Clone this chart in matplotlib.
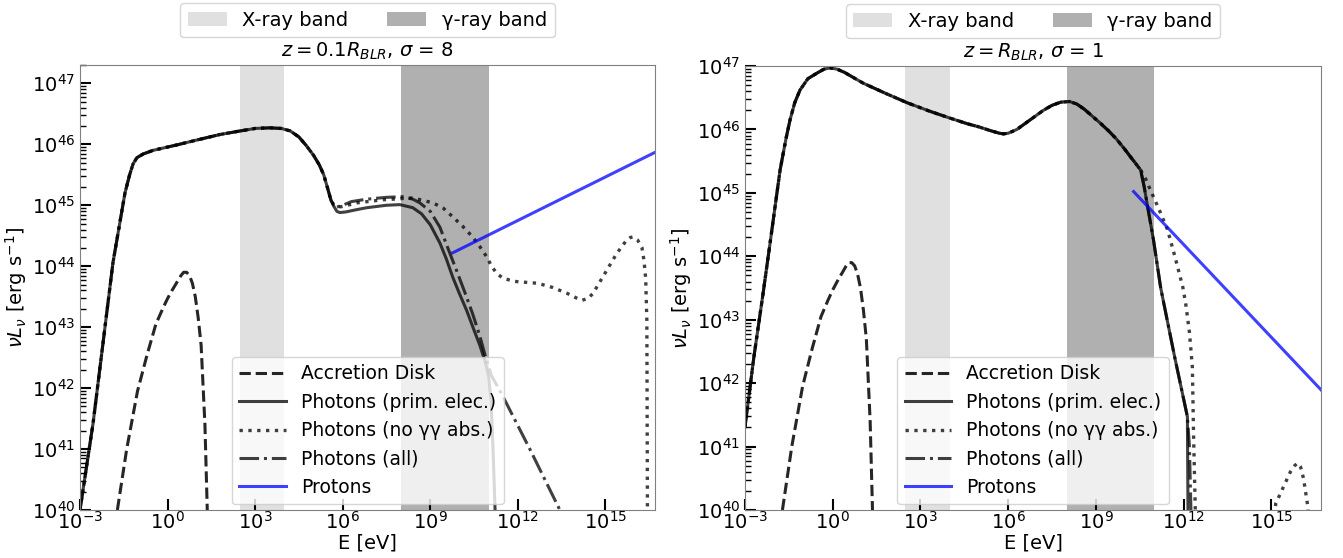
import numpy as np
import matplotlib
matplotlib.use("Agg")
from matplotlib import pyplot as plt
from matplotlib.ticker import LogLocator, NullLocator

# energy bands [eV]
xray_band = (3e2, 1e4)
gamma_band = (1e8, 1e11)

# accretion disk (same in both panels), log10 values
disk_logE = [-1.72, -1.4, -1.03, -0.7, -0.4, -0.15, 0.0, 0.15, 0.3, 0.45, 0.55, 0.65, 0.75, 0.85, 0.95, 1.05, 1.15, 1.28, 1.36]
disk_logL = [40.0, 41.0, 41.95, 42.55, 43.05, 43.32, 43.47, 43.6, 43.72, 43.84, 43.9, 43.9, 43.85, 43.72, 43.5, 43.15, 42.7, 41.4, 40.0]

# left panel: z = 0.1 R_BLR, sigma = 8
l_common_logE = [-3, -2.55, -1.87, -1.46, -1.3, -1.18, -1.05, -0.84, -0.5, 0.32, 1.0, 1.79, 2.5, 3.0, 3.5,
                 3.9, 4.2, 4.5, 4.75, 5.0, 5.2, 5.35, 5.5, 5.6]
l_common_logL = [40, 41.43, 44.06, 45.2, 45.5, 45.68, 45.78, 45.84, 45.9, 45.99, 46.07, 46.16, 46.22, 46.26, 46.27,
                 46.26, 46.22, 46.12, 45.98, 45.82, 45.66, 45.5, 45.25, 45.08]

l_prim_logE = [5.7, 5.8, 5.9, 6.1, 6.5, 6.83, 7.5, 7.96, 8.4, 8.7, 9.0, 9.33, 9.55, 9.77, 10.0, 10.25, 10.5, 10.7,
               10.87, 11.0, 11.08, 11.15, 11.22]
l_prim_logL = [44.98, 44.9, 44.88, 44.89, 44.93, 44.96, 45.0, 45.01, 44.96, 44.86, 44.68, 44.38, 44.12, 43.82, 43.55,
               43.27, 42.95, 42.7, 42.45, 42.2, 41.8, 41.0, 40.0]

l_noabs_logE = [5.7, 5.85, 5.99, 6.5, 7.38, 8.4, 9.09, 9.45, 9.77, 10.1, 10.45, 10.7, 10.94, 11.1, 11.28, 11.5, 11.9,
                12.68, 13.2, 13.71, 14.0, 14.19, 14.4, 14.57, 14.98, 15.39, 15.73, 15.85, 15.94, 16.1, 16.25, 16.32,
                16.38, 16.42, 16.44]
l_noabs_logL = [45.0, 44.97, 44.98, 45.04, 45.09, 45.12, 45.04, 44.95, 44.81, 44.66, 44.48, 44.32, 44.15, 44.0, 43.88,
                43.8, 43.75, 43.72, 43.65, 43.55, 43.48, 43.44, 43.47, 43.55, 43.88, 44.21, 44.43, 44.47, 44.48, 44.43,
                44.31, 44.1, 43.8, 43.1, 40.0]

l_all_logE = [5.7, 5.8, 6.0, 6.3, 6.83, 7.5, 8.06, 8.4, 8.64, 9.0, 9.33, 9.6, 9.9, 10.2, 10.45, 10.7, 10.9, 11.1,
              11.45, 12.41, 13.44]
l_all_logL = [45.0, 44.97, 45.0, 45.06, 45.1, 45.13, 45.14, 45.1, 45.04, 44.9, 44.64, 44.3, 43.93, 43.55, 43.22,
              42.85, 42.5, 42.2, 41.9, 41.0, 40.0]

l_prot_logE = [9.77, 16.75]
l_prot_logL = [44.22, 45.88]

# right panel: z = R_BLR, sigma = 1
r_common_logE = [-3, -2.7, -2.38, -2.1, -1.8, -1.6, -1.46, -1.3, -1.12, -0.85, -0.53, -0.3, -0.09, 0.15, 0.4,
                 0.7, 1.04, 1.8, 2.55, 3.3, 4.0, 4.6, 5.0, 5.4, 5.7, 5.84, 6.0, 6.3, 6.6, 6.9, 7.2, 7.5, 7.8,
                 8.1, 8.35, 8.6, 8.9, 9.15, 9.45, 9.7, 10.0, 10.18, 10.35, 10.53]
r_common_logL = [41.31, 42.4, 43.42, 44.35, 45.36, 45.85, 46.15, 46.42, 46.62, 46.8, 46.89, 46.95, 46.97, 46.95,
                 46.9, 46.82, 46.73, 46.57, 46.42, 46.29, 46.18, 46.09, 46.04, 45.98, 45.94, 45.93, 45.94, 46.0,
                 46.1, 46.2, 46.3, 46.38, 46.43, 46.44, 46.4, 46.32, 46.2, 46.1, 45.97, 45.85, 45.68, 45.57, 45.47,
                 45.36]

r_prim_logE = [10.53, 10.65, 10.77, 10.97, 11.21, 11.3, 11.7, 12.13, 12.15]
r_prim_logL = [45.36, 45.1, 44.78, 44.26, 43.52, 43.31, 42.4, 41.47, 40.0]

r_noabs_logE = [10.53, 10.7, 10.86, 11.15, 11.45, 11.7, 11.97, 12.07, 12.2, 12.3, 12.34, 12.4, 12.5, 15.0, 15.15,
                15.4, 15.65, 15.8, 15.9, 16.0, 16.1, 16.25, 16.3]
r_noabs_logL = [45.36, 45.22, 45.05, 44.75, 44.42, 44.0, 43.52, 43.26, 42.8, 42.25, 41.2, 40.0, 39.0, 39.0, 40.1,
                40.35, 40.6, 40.7, 40.74, 40.68, 40.5, 40.05, 39.5]

r_all_logE = [10.53, 10.65, 10.77, 10.97, 11.21, 11.3, 11.7, 12.13, 12.2, 12.25]
r_all_logL = [45.36, 45.1, 44.78, 44.26, 43.52, 43.31, 42.4, 41.47, 41.0, 40.0]

r_prot_logE = [10.29, 16.75]
r_prot_logL = [45.02, 41.87]

xticks = [1e-3, 1e0, 1e3, 1e6, 1e9, 1e12, 1e15]


def p(logs):
    return 10.0 ** np.array(logs)


def draw_panel(ax, common, prim, noabs, allph, prot, ylim, title):
    xb = ax.axvspan(*xray_band, color="#e0e0e0", lw=0, zorder=0, label="X-ray band")
    gb = ax.axvspan(*gamma_band, color="#b0b0b0", lw=0, zorder=0, label="\u03b3-ray band")

    cE, cL = common
    h1, = ax.plot(p(disk_logE), p(disk_logL), "--", color="k", alpha=0.85, lw=2.2, label="Accretion Disk")
    h2, = ax.plot(p(cE + prim[0]), p(cL + prim[1]), "-", color="k", alpha=0.75, lw=2.2,
                  label="Photons (prim. elec.)")
    h3, = ax.plot(p(cE + noabs[0]), p(cL + noabs[1]), ":", color="k", alpha=0.75, lw=2.4,
                  label="Photons (no \u03b3\u03b3 abs.)")
    h4, = ax.plot(p(cE + allph[0]), p(cL + allph[1]), "-.", color="k", alpha=0.75, lw=2.2,
                  label="Photons (all)")
    h5, = ax.plot(p(prot[0]), p(prot[1]), "-", color="blue", alpha=0.75, lw=2.2, label="Protons")

    ax.set_xscale("log")
    ax.set_yscale("log")
    ax.set_xlim(1e-3, 5e16)
    ax.set_ylim(*ylim)
    ax.set_xticks(xticks)
    ax.xaxis.set_minor_locator(NullLocator())
    ax.yaxis.set_major_locator(LogLocator(base=10, numticks=20))
    ax.yaxis.set_minor_locator(LogLocator(base=10, subs=np.arange(2, 10), numticks=20))
    ax.tick_params(which="both", direction="in", labelsize=14, top=False, right=False)
    ax.tick_params(which="major", length=8, width=1.5)
    ax.tick_params(which="minor", length=4, width=1.0)
    ax.tick_params(axis="x", pad=1)
    for s in ax.spines.values():
        s.set_color("0.5")

    ax.set_xlabel("E [eV]", fontsize=14, labelpad=0)
    ax.set_ylabel(r"$\nu L_\nu$ [erg s$^{-1}$]", fontsize=14, labelpad=2)
    ax.set_title(title, fontsize=14, pad=6)

    band_leg = ax.legend(handles=[xb, gb], loc="lower center", bbox_to_anchor=(0.5, 1.062), borderaxespad=0,
                         ncol=2, fontsize=14, handlelength=2.0, columnspacing=2.0)
    ax.add_artist(band_leg)
    ax.legend(handles=[h1, h2, h3, h4, h5], loc="lower center", fontsize=13.5, handlelength=2.5,
              borderaxespad=0.3)


fig = plt.figure(figsize=(13.43, 5.58), dpi=100)
ax1 = fig.add_axes([80 / 1343, 48 / 558, 575 / 1343, 445 / 558])
ax2 = fig.add_axes([745 / 1343, 48 / 558, 576 / 1343, 444 / 558])

draw_panel(ax1, (l_common_logE, l_common_logL), (l_prim_logE, l_prim_logL), (l_noabs_logE, l_noabs_logL),
           (l_all_logE, l_all_logL), (l_prot_logE, l_prot_logL), (1e40, 2e47),
           r"$z = 0.1R_{BLR}$, $\sigma$ = 8")
draw_panel(ax2, (r_common_logE, r_common_logL), (r_prim_logE, r_prim_logL), (r_noabs_logE, r_noabs_logL),
           (r_all_logE, r_all_logL), (r_prot_logE, r_prot_logL), (1e40, 1e47),
           r"$z = R_{BLR}$, $\sigma$ = 1")

fig.savefig("out.png", dpi=100)
